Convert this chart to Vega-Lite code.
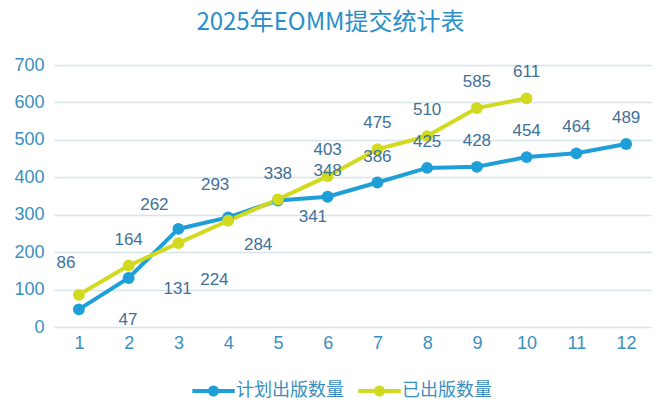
{
  "$schema": "https://vega.github.io/schema/vega-lite/v6.json",
  "width": 597,
  "height": 262,
  "autosize": {"type": "none"},
  "padding": {"left": 54, "top": 65, "right": 11, "bottom": 86},
  "background": "white",
  "title": {
    "text": "2025年EOMM提交统计表",
    "font": "Noto Sans CJK SC",
    "fontSize": 24,
    "fontWeight": "normal",
    "color": "#2b8fcb",
    "anchor": "middle",
    "frame": "group",
    "dx": -22,
    "offset": 21
  },
  "config": {
    "view": {"stroke": null},
    "font": "Noto Sans CJK SC",
    "axis": {
      "labelFont": "Liberation Sans",
      "labelFontSize": 18,
      "labelColor": "#3a8fc0",
      "domain": false,
      "ticks": false,
      "title": null,
      "gridColor": "#d6e4ec",
      "gridWidth": 1.5
    }
  },
  "data": {
    "values": [
      {"month": 1, "series": "计划出版数量", "value": 47},
      {"month": 2, "series": "计划出版数量", "value": 131},
      {"month": 3, "series": "计划出版数量", "value": 262},
      {"month": 4, "series": "计划出版数量", "value": 293},
      {"month": 5, "series": "计划出版数量", "value": 338},
      {"month": 6, "series": "计划出版数量", "value": 348},
      {"month": 7, "series": "计划出版数量", "value": 386},
      {"month": 8, "series": "计划出版数量", "value": 425},
      {"month": 9, "series": "计划出版数量", "value": 428},
      {"month": 10, "series": "计划出版数量", "value": 454},
      {"month": 11, "series": "计划出版数量", "value": 464},
      {"month": 12, "series": "计划出版数量", "value": 489},
      {"month": 1, "series": "已出版数量", "value": 86},
      {"month": 2, "series": "已出版数量", "value": 164},
      {"month": 3, "series": "已出版数量", "value": 224},
      {"month": 4, "series": "已出版数量", "value": 284},
      {"month": 5, "series": "已出版数量", "value": 341},
      {"month": 6, "series": "已出版数量", "value": 403},
      {"month": 7, "series": "已出版数量", "value": 475},
      {"month": 8, "series": "已出版数量", "value": 510},
      {"month": 9, "series": "已出版数量", "value": 585},
      {"month": 10, "series": "已出版数量", "value": 611}
    ]
  },
  "encoding": {
    "x": {
      "field": "month",
      "type": "quantitative",
      "scale": {"domain": [0.5, 12.5], "nice": false, "zero": false},
      "axis": {"values": [1,2,3,4,5,6,7,8,9,10,11,12], "grid": false, "labelPadding": 7, "format": "d"}
    },
    "y": {
      "field": "value",
      "type": "quantitative",
      "scale": {"domain": [0, 700], "nice": false},
      "axis": {"values": [0,100,200,300,400,500,600,700], "labelPadding": 10, "grid": true}
    }
  },
  "layer": [
    {
      "mark": {"type": "line", "strokeWidth": 4, "point": {"filled": true, "size": 140}},
      "encoding": {
        "color": {
          "field": "series",
          "type": "nominal",
          "sort": ["计划出版数量", "已出版数量"],
          "scale": {"domain": ["计划出版数量", "已出版数量"], "range": ["#1f9fd8", "#d2da20"]},
          "legend": {
            "title": null,
            "orient": "none",
            "direction": "horizontal",
            "legendX": 143,
            "legendY": 309,
            "symbolType": "M-1.5,0H-0.25M0.25,0H1.5M0.25,0A0.25,0.25 0 1,1 -0.25,0A0.25,0.25 0 1,1 0.25,0",
            "symbolSize": 800,
            "symbolStrokeWidth": 4,
            "labelFont": "Noto Sans CJK SC",
            "labelFontSize": 18,
            "labelColor": "#3a8fc0",
            "labelOffset": 6,
            "columnPadding": 6,
            "encode": {"symbols": {"update": {"fill": {"scale": "color", "field": "value"}, "stroke": {"scale": "color", "field": "value"}}}}
          }
        },
        "order": {"value": 0}
      }
    },
    {
      "transform": [{"filter": "(datum.series == '计划出版数量' && datum.month >= 5) || (datum.series == '已出版数量' && (datum.month == 2 || datum.month >= 6))"}],
      "mark": {"type": "text", "fontSize": 17, "font": "Liberation Sans", "color": "#3f7199", "dy": -26},
      "encoding": {"text": {"field": "value", "type": "quantitative"}}
    },
    {
      "transform": [{"filter": "(datum.series == '计划出版数量' && datum.month == 3)"}],
      "mark": {"type": "text", "fontSize": 17, "font": "Liberation Sans", "color": "#3f7199", "dx": -24, "dy": -24},
      "encoding": {"text": {"field": "value", "type": "quantitative"}}
    },
    {
      "transform": [{"filter": "(datum.series == '计划出版数量' && datum.month == 4) || (datum.series == '已出版数量' && datum.month == 1)"}],
      "mark": {"type": "text", "fontSize": 17, "font": "Liberation Sans", "color": "#3f7199", "dx": -13, "dy": -32},
      "encoding": {"text": {"field": "value", "type": "quantitative"}}
    },
    {
      "transform": [{"filter": "(datum.series == '计划出版数量' && datum.month <= 2)"}],
      "mark": {"type": "text", "fontSize": 17, "font": "Liberation Sans", "color": "#3f7199", "dx": 49, "dy": 11},
      "encoding": {"text": {"field": "value", "type": "quantitative"}}
    },
    {
      "transform": [{"filter": "(datum.series == '已出版数量' && datum.month == 3)"}],
      "mark": {"type": "text", "fontSize": 17, "font": "Liberation Sans", "color": "#3f7199", "dx": 36, "dy": 37},
      "encoding": {"text": {"field": "value", "type": "quantitative"}}
    },
    {
      "transform": [{"filter": "(datum.series == '已出版数量' && datum.month == 4)"}],
      "mark": {"type": "text", "fontSize": 17, "font": "Liberation Sans", "color": "#3f7199", "dx": 30, "dy": 24},
      "encoding": {"text": {"field": "value", "type": "quantitative"}}
    },
    {
      "transform": [{"filter": "(datum.series == '已出版数量' && datum.month == 5)"}],
      "mark": {"type": "text", "fontSize": 17, "font": "Liberation Sans", "color": "#3f7199", "dx": 35, "dy": 18},
      "encoding": {"text": {"field": "value", "type": "quantitative"}}
    }
  ]
}
